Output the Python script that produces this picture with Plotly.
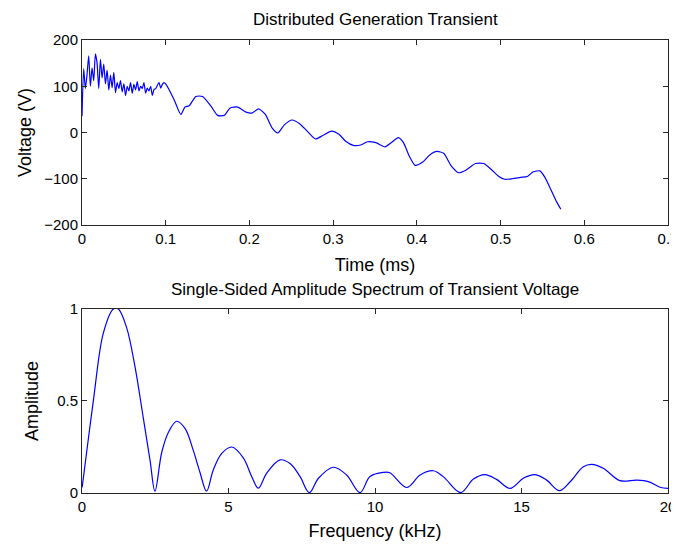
import plotly.graph_objs as go

# Transient voltage (time in ms, voltage in V)
time_ms = [
    0.000, 0.002, 0.004, 0.006, 0.008, 0.010, 0.012, 0.014, 0.016, 0.018,
    0.020, 0.022, 0.024, 0.026, 0.028, 0.030, 0.032, 0.034, 0.036, 0.038,
    0.040, 0.042, 0.044, 0.046, 0.048, 0.050, 0.052, 0.054, 0.056, 0.058,
    0.060, 0.062, 0.064, 0.066, 0.068, 0.070, 0.072, 0.074, 0.076, 0.078,
    0.080, 0.082, 0.084, 0.086, 0.088, 0.090, 0.092, 0.094, 0.096, 0.098,
    0.100, 0.110, 0.118, 0.123, 0.128, 0.136, 0.144, 0.154, 0.162, 0.170,
    0.177, 0.186, 0.196, 0.203, 0.211, 0.219, 0.227, 0.234, 0.242, 0.251,
    0.260, 0.269, 0.279, 0.288, 0.298, 0.307, 0.315, 0.324, 0.333, 0.341,
    0.351, 0.362, 0.370, 0.378, 0.384, 0.391, 0.398, 0.407, 0.415, 0.424,
    0.432, 0.441, 0.450, 0.459, 0.470, 0.480, 0.489, 0.498, 0.505, 0.514,
    0.524, 0.532, 0.539, 0.547, 0.553, 0.560, 0.567, 0.572,
]
voltage = [
    35, 138, 95, 125, 166, 100, 140, 112, 170, 150,
    95, 158, 118, 148, 105, 135, 92, 124, 97, 130,
    86, 108, 95, 112, 88, 105, 80, 100, 90, 108,
    85, 104, 92, 110, 90, 100, 95, 108, 85, 96,
    90, 100, 80, 93, 95, 102, 108, 96, 104, 108,
    105, 71, 39, 55, 58, 78, 78, 57, 37, 37,
    53, 55, 44, 42, 51, 39, 10, -1, 17, 27,
    19, 3, -14, -6, 3, -4, -19, -28, -27, -20,
    -22, -31, -21, -11, -22, -51, -71, -64, -49, -41,
    -45, -72, -87, -81, -67, -67, -80, -95, -101, -100,
    -97, -95, -85, -83, -97, -123, -150, -166,
]

# Single-sided amplitude spectrum (frequency in kHz)
freq_khz = [
    0.00, 0.02, 0.39, 0.73, 1.07, 1.24, 1.52, 1.81, 2.09, 2.32,
    2.49, 2.72, 2.95, 3.23, 3.52, 3.80, 4.03, 4.25, 4.48, 4.77,
    5.11, 5.51, 5.79, 6.02, 6.30, 6.76, 7.10, 7.44, 7.76, 8.07,
    8.58, 9.03, 9.49, 9.83, 10.28, 10.51, 11.08, 11.54, 11.99, 12.33,
    12.92, 13.36, 13.75, 14.15, 14.61, 15.06, 15.46, 15.86, 16.29, 16.66,
    17.11, 17.40, 17.79, 18.36, 18.93, 19.33, 19.73, 20.00,
]
amplitude = [
    0.03, 0.05, 0.505, 0.87, 1.0, 1.0, 0.90, 0.686, 0.41, 0.18,
    0.01, 0.22, 0.33, 0.39, 0.35, 0.23, 0.11, 0.01, 0.125, 0.215,
    0.25, 0.19, 0.09, 0.026, 0.107, 0.18, 0.16, 0.09, 0.002, 0.08,
    0.14, 0.098, 0.002, 0.09, 0.112, 0.11, 0.03, 0.098, 0.121, 0.089,
    0.002, 0.076, 0.10, 0.074, 0.025, 0.08, 0.10, 0.07, 0.013, 0.061,
    0.143, 0.156, 0.134, 0.067, 0.07, 0.062, 0.031, 0.025,
]

FONT = "Liberation Sans, Arial, sans-serif"

fig = go.Figure()

fig.add_trace(go.Scatter(
    x=time_ms, y=voltage, mode="lines", line_shape="spline",
    line=dict(color="#0000ff", width=1.2, smoothing=0.6),
    xaxis="x", yaxis="y", showlegend=False,
))

fig.add_trace(go.Scatter(
    x=freq_khz, y=amplitude, mode="lines", line_shape="spline",
    line=dict(color="#0000ff", width=1.2),
    xaxis="x2", yaxis="y2", showlegend=False,
))

axis_style = dict(
    showline=True, mirror="ticks", linecolor="#262626", linewidth=1,
    ticks="inside", ticklen=5, tickcolor="#262626",
    showgrid=False, zeroline=False,
    tickfont=dict(family=FONT, size=15, color="#000000"),
)

# the page body has an 8px margin, so the figure is 8px smaller than the window
fig.update_layout(
    width=671, height=537,
    margin=dict(l=74, r=11, t=32, b=52, autoexpand=False),
    paper_bgcolor="white", plot_bgcolor="white",
    font=dict(family=FONT, size=15, color="#000000"),
    xaxis=dict(domain=[0, 1], range=[0, 0.7], dtick=0.1, anchor="y",
               title=dict(text="Time (ms)", standoff=12), **axis_style),
    yaxis=dict(domain=[0.5916, 1], range=[-200, 200], dtick=100, anchor="x",
               title=dict(text="Voltage (V)", standoff=7), **axis_style),
    xaxis2=dict(domain=[0, 1], range=[0, 20], dtick=5, anchor="y2",
                title=dict(text="Frequency (kHz)", standoff=10), **axis_style),
    yaxis2=dict(domain=[0, 0.4062], range=[0, 1], dtick=0.5, anchor="x2",
                title=dict(text="Amplitude", standoff=13), **axis_style),
    annotations=[
        dict(text="Distributed Generation Transient", x=0.5, y=1.046,
             xref="paper", yref="paper", yanchor="middle", showarrow=False,
             font=dict(family=FONT, size=17)),
        dict(text="Single-Sided Amplitude Spectrum of Transient Voltage",
             x=0.5, y=0.450, xref="paper", yref="paper", yanchor="middle",
             showarrow=False, font=dict(family=FONT, size=17)),
    ],
)

fig.write_html("out.html")
